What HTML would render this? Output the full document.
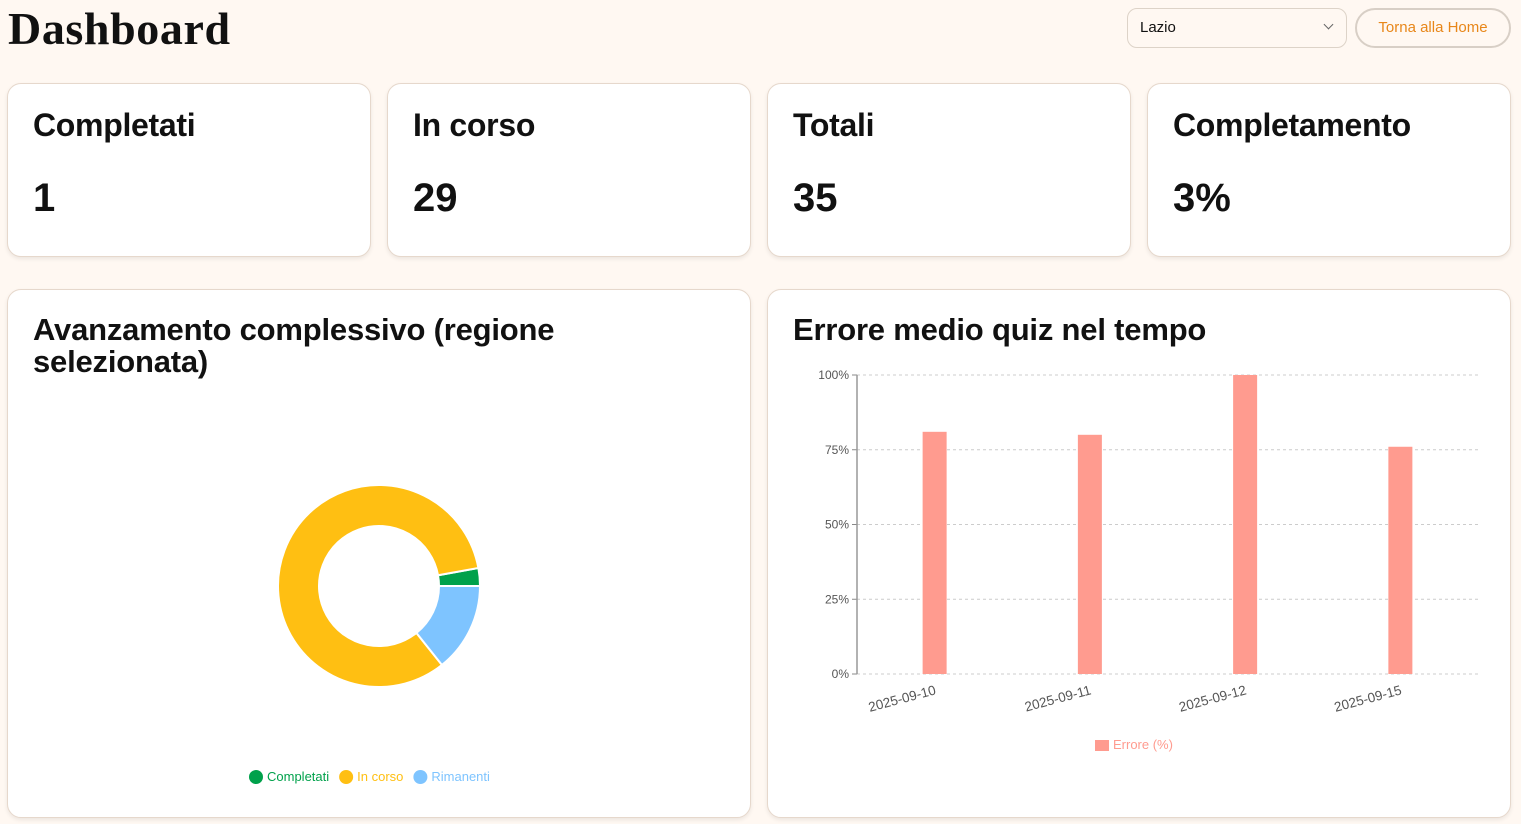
<!DOCTYPE html>
<html><head><meta charset="utf-8">
<style>
*{box-sizing:border-box;margin:0;padding:0}
body{width:1521px;height:824px;background:#fff8f2;font-family:"Liberation Sans",sans-serif;position:relative;overflow:hidden;color:#111}
.title{position:absolute;left:8px;top:2px;font-family:"Liberation Serif",serif;font-weight:bold;font-size:46px;letter-spacing:0.6px}
.sel{position:absolute;left:1127px;top:8px;width:220px;height:40px;border:1px solid #ddd3c8;border-radius:10px;background:#fff8f2;font-size:15px;padding:10px 12px}
.sel span.chev{position:absolute;right:14px;top:12px;width:7px;height:7px;border-right:1.5px solid #666;border-bottom:1.5px solid #666;transform:rotate(45deg)}
.btn{position:absolute;left:1355px;top:8px;width:156px;height:40px;border:2px solid #d8cfc6;border-radius:20px;font-size:15px;color:#e8871a;text-align:center;line-height:36px;background:#fff8f2}
.card{position:absolute;background:#fff;border:1px solid #e6d8cc;border-radius:14px;box-shadow:0 2px 4px rgba(0,0,0,0.08)}
.card h3{position:absolute;left:25px;top:23px;font-size:32px;font-weight:bold;letter-spacing:-0.3px}
.card .v{position:absolute;left:25px;top:92px;font-size:40px;font-weight:bold}
.ct{position:absolute;left:25px;top:24px;font-size:31px;font-weight:bold;line-height:32px;letter-spacing:-0.2px}
</style></head><body>
<div class="title">Dashboard</div>
<div class="sel">Lazio<span class="chev"></span></div>
<div class="btn">Torna alla Home</div>

<div class="card" style="left:7px;top:83px;width:364px;height:174px"><h3>Completati</h3><div class="v">1</div></div>
<div class="card" style="left:387px;top:83px;width:364px;height:174px"><h3>In corso</h3><div class="v">29</div></div>
<div class="card" style="left:767px;top:83px;width:364px;height:174px"><h3>Totali</h3><div class="v">35</div></div>
<div class="card" style="left:1147px;top:83px;width:364px;height:174px"><h3>Completamento</h3><div class="v">3%</div></div>

<div class="card" style="left:7px;top:289px;width:744px;height:529px">
<div class="ct">Avanzamento complessivo (regione<br>selezionata)</div>
</div>
<div class="card" style="left:767px;top:289px;width:744px;height:529px">
<div class="ct">Errore medio quiz nel tempo</div>
</div>

<svg id="svg" width="1521" height="824" style="position:absolute;left:0;top:0"></svg>

<script>
const pieLabels=["Completati","In corso","Rimanenti"];
const pieValues=[1,29,5];
const pieColors=["#00a14b","#ffbf12","#7ec4ff"];
const barCats=["2025-09-10","2025-09-11","2025-09-12","2025-09-15"];
const barValues=[81,80,100,76];
const yTicks=[0,25,50,75,100];

const NS="http://www.w3.org/2000/svg";
const svg=document.getElementById('svg');
function mk(t,a,txt){const e=document.createElementNS(NS,t);for(const k in a)e.setAttribute(k,a[k]);if(txt!=null)e.textContent=txt;svg.appendChild(e);return e;}

// Donut
const cx=379,cy=586,ro=101,ri=60;
const tot=pieValues.reduce((a,b)=>a+b,0);
let ang=0;
pieValues.forEach((v,i)=>{
  const a0=ang,a1=ang+v/tot*2*Math.PI;ang=a1;
  const p=(r,a)=>[cx+r*Math.cos(a),cy-r*Math.sin(a)];
  const [x0,y0]=p(ro,a0),[x1,y1]=p(ro,a1),[x2,y2]=p(ri,a1),[x3,y3]=p(ri,a0);
  const lg=(a1-a0)>Math.PI?1:0;
  const el=mk('path',{d:`M${x0},${y0} A${ro},${ro} 0 ${lg} 0 ${x1},${y1} L${x2},${y2} A${ri},${ri} 0 ${lg} 1 ${x3},${y3} Z`,fill:pieColors[i],stroke:'#fff','stroke-width':2});
  
  
});
// pie legend
let lx=249;
pieLabels.forEach((l,i)=>{
  const c=mk('circle',{cx:lx+7,cy:777,r:7,fill:pieColors[i]});
  
  
  const t=mk('text',{x:lx+18,y:781,'font-size':13,fill:pieColors[i],'font-family':'Liberation Sans'},l);
  
  
  lx+=18+t.getComputedTextLength()+10;
});

// Bar chart
const px0=857,px1=1478,py0=674,py1=375;
const ys=v=>py0-(v/100)*(py0-py1);
const band=(px1-px0)/barCats.length;
const xs=i=>px0+band*(i+0.5);
yTicks.forEach(t=>{
  const g=mk('line',{x1:px0,x2:px1,y1:ys(t),y2:ys(t),stroke:'#ccc','stroke-dasharray':'3 3'});
  
  
  mk('line',{x1:px0-5,x2:px0,y1:ys(t),y2:ys(t),stroke:'#888'});
  const tl=mk('text',{x:px0-8,y:ys(t)+4,'font-size':12,fill:'#555','text-anchor':'end','font-family':'Liberation Sans'},t+'%');
  
  
});
const ax=mk('line',{x1:px0,x2:px0,y1:py1,y2:py0,stroke:'#999','stroke-width':1.5});


barValues.forEach((v,i)=>{
  const r=mk('rect',{x:xs(i)-12,y:ys(v),width:24,height:py0-ys(v),fill:'#ff9b8f'});
  
  
  const t=mk('text',{x:xs(i)+2,y:py0+20,'font-size':13.5,fill:'#555','text-anchor':'end','font-family':'Liberation Sans',transform:`rotate(-15 ${xs(i)+2} ${py0+20})`},barCats[i]);
  
  
});
const lr=mk('rect',{x:1095,y:740,width:14,height:11,fill:'#ff9b8f'});


const lt=mk('text',{x:1113,y:749,'font-size':13,fill:'#ff9b8f','font-family':'Liberation Sans'},'Errore (%)');


</script>
</body></html>
